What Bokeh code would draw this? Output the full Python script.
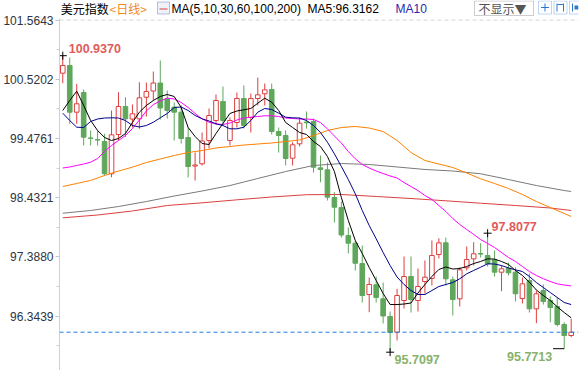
from bokeh.plotting import figure
from bokeh.models import Range1d, FixedTicker, Span, Label, BoxAnnotation, PrintfTickFormatter, ColumnDataSource
from bokeh.embed import file_html
from bokeh.resources import INLINE

# ---------------- data ----------------
opens = [100.628, 100.764, 99.941, 100.288, 99.487, 99.457, 99.424, 98.855, 99.547, 100.041,
         99.820, 99.824, 100.205, 100.314, 100.455, 100.177, 100.029, 99.941, 99.495, 98.992,
         99.031, 99.442, 99.794, 100.129, 99.442, 99.759, 100.182, 99.847, 100.182, 100.265,
         100.341, 99.600, 99.530, 99.130, 99.383, 99.768, 99.777, 98.960, 98.925, 98.437,
         98.260, 97.767, 97.631, 97.273, 96.727, 96.898, 96.651, 96.339, 96.062, 96.621,
         97.044, 96.621, 96.956, 97.009, 97.432, 97.638, 96.986, 96.651, 97.197, 97.356,
         97.449, 97.414, 97.338, 97.120, 97.190, 97.120, 96.656, 96.973, 96.474, 96.797,
         96.621, 96.515, 96.198, 96.004]
highs = [100.937, 100.905, 100.441, 100.341, 99.618, 99.618, 99.560, 99.970, 100.293, 100.205,
         100.076, 100.469, 100.464, 100.658, 100.852, 100.323, 100.112, 100.059, 99.671, 99.230,
         99.583, 100.006, 100.253, 100.394, 99.847, 100.288, 100.411, 100.270, 100.552, 100.446,
         100.446, 99.671, 99.618, 99.412, 99.847, 99.953, 99.829, 99.177, 99.054, 98.530,
         98.366, 97.908, 97.679, 97.590, 97.026, 97.044, 96.938, 96.427, 96.827, 97.397,
         97.397, 97.185, 97.326, 97.679, 97.719, 97.731, 97.044, 97.208, 97.573, 97.649,
         97.631, 97.8077, 97.502, 97.238, 97.291, 97.208, 97.026, 97.097, 96.797, 96.903,
         96.691, 96.674, 96.238, 96.298]
lows = [100.452, 99.736, 99.736, 99.353, 99.353, 99.353, 98.825, 98.795, 99.442, 99.500,
        99.671, 99.648, 99.865, 100.147, 99.812, 99.829, 99.442, 99.389, 98.789, 98.736,
        99.001, 99.301, 99.724, 99.724, 99.353, 99.671, 99.653, 99.583, 100.059, 100.059,
        99.547, 99.230, 99.001, 99.001, 99.336, 99.653, 98.877, 98.706, 98.384, 97.996,
        97.731, 97.449, 97.150, 96.586, 96.415, 96.586, 96.215, 95.7097, 95.916, 96.480,
        96.409, 96.427, 96.744, 96.885, 97.361, 96.885, 96.356, 96.515, 97.150, 97.238,
        97.379, 97.220, 97.044, 96.785, 97.062, 96.603, 96.568, 96.409, 96.221, 96.550,
        96.238, 96.162, 95.7713, 95.974]
closes = [100.764, 99.941, 100.089, 99.500, 99.480, 99.450, 98.855, 99.542, 100.041, 99.824,
          99.912, 100.194, 100.305, 100.455, 100.015, 99.970, 99.941, 99.477, 98.983, 99.010,
          99.433, 99.882, 100.147, 99.794, 99.794, 100.182, 99.706, 100.182, 100.247, 100.335,
          99.600, 99.530, 99.124, 99.366, 99.747, 99.754, 98.971, 98.930, 98.442, 98.266,
          97.776, 97.631, 97.278, 96.709, 96.903, 96.674, 96.348, 96.057, 96.709, 97.044,
          96.638, 96.868, 97.032, 97.414, 97.638, 97.003, 96.638, 97.162, 97.344, 97.444,
          97.439, 97.268, 97.120, 97.180, 97.109, 96.739, 96.915, 96.474, 96.739, 96.603,
          96.497, 96.198, 96.004, 96.062]

ma5 = [99.971, 100.147, 100.311, 100.059, 99.794, 99.618, 99.495, 99.442, 99.477, 99.565,
       99.759, 99.941, 100.059, 100.147, 100.218, 100.253, 100.218, 100.024, 99.671, 99.512,
       99.389, 99.371, 99.565, 99.742, 99.918, 99.962, 99.983, 100.006, 100.099, 100.188,
       100.117, 99.971, 99.759, 99.671, 99.583, 99.548, 99.424, 99.336, 99.160, 98.895,
       98.437, 98.031, 97.679, 97.450, 97.203, 96.974, 96.744, 96.550, 96.550, 96.559,
       96.577, 96.753, 96.903, 97.044, 97.168, 97.212, 97.176, 97.185, 97.220, 97.273,
       97.309, 97.356, 97.351, 97.309, 97.256, 97.150, 97.062, 96.944, 96.806, 96.709,
       96.621, 96.510, 96.409, 96.316]
ma10 = [99.923, 99.794, 99.676, 99.671, 99.777, 99.821, 99.838, 99.842, 99.838, 99.794,
        99.706, 99.680, 99.706, 99.764, 99.842, 99.918, 100.024, 100.032, 99.971, 99.883,
        99.824, 99.786, 99.736, 99.706, 99.648, 99.648, 99.676, 99.794, 99.941, 100.006,
        99.988, 99.923, 99.853, 99.842, 99.838, 99.794, 99.706, 99.583, 99.412, 99.207,
        98.983, 98.754, 98.502, 98.208, 97.943, 97.709, 97.467, 97.238, 97.035, 96.903,
        96.797, 96.727, 96.727, 96.797, 96.868, 96.903, 96.938, 97.004, 97.092, 97.150,
        97.208, 97.268, 97.264, 97.238, 97.194, 97.162, 97.132, 97.044, 96.938, 96.850,
        96.762, 96.674, 96.586, 96.550]
ma30 = [98.957, 98.975, 99.001, 99.027, 99.059, 99.124, 99.248, 99.354, 99.442, 99.530,
        99.653, 99.803, 99.962, 100.076, 100.138, 100.191, 100.173, 100.112, 100.024, 99.918,
        99.824, 99.764, 99.733, 99.724, 99.750, 99.803, 99.838, 99.853, 99.865, 99.877,
        99.877, 99.865, 99.838, 99.830, 99.821, 99.821, 99.812, 99.759, 99.648, 99.521,
        99.398, 99.248, 99.119, 99.019, 98.957, 98.904, 98.860, 98.816, 98.781, 98.701,
        98.631, 98.560, 98.472, 98.402, 98.296, 98.190, 98.067, 97.961, 97.873, 97.785,
        97.696, 97.626, 97.555, 97.467, 97.379, 97.309, 97.220, 97.132, 97.062, 97.004,
        96.956, 96.915, 96.894, 96.877]
ma60_idx = [0, 2, 4, 6, 8, 10, 12, 14, 16, 18, 20, 22, 24, 26, 28, 30, 32, 34, 36, 38,
            40, 42, 44, 46, 48, 50, 52, 54, 56, 58, 60, 62, 64, 66, 68, 70, 72, 73]
ma60 = [98.631, 98.684, 98.737, 98.825, 98.904, 98.971, 99.054, 99.116, 99.177, 99.230,
        99.265, 99.310, 99.336, 99.362, 99.380, 99.398, 99.424, 99.451, 99.530, 99.618,
        99.671, 99.689, 99.662, 99.600, 99.442, 99.230, 99.089, 99.027, 98.966, 98.869,
        98.767, 98.684, 98.596, 98.490, 98.366, 98.261, 98.155, 98.102]
ma100_idx = [0, 4, 8, 12, 16, 20, 24, 28, 32, 36, 40, 44, 48, 52, 56, 60, 64, 68, 72, 73]
ma100 = [98.160, 98.208, 98.278, 98.366, 98.463, 98.551, 98.648, 98.772, 98.895, 99.001,
         99.036, 99.019, 98.975, 98.931, 98.904, 98.855, 98.754, 98.648, 98.560, 98.543]
ma200_idx = [0, 5, 10, 15, 20, 25, 30, 35, 40, 45, 50, 55, 60, 65, 70, 73]
ma200 = [98.079, 98.128, 98.199, 98.296, 98.343, 98.396, 98.446, 98.486, 98.490, 98.455,
         98.419, 98.379, 98.336, 98.296, 98.252, 98.208]

tick_vals = [96.3439, 97.3880, 98.4321, 99.4761, 100.5202, 101.5643]
ma5_last = 96.3162
second_high_i = 61
second_low_i = 72

# ---------------- colours ----------------
RED = "#dd3f3f"
GREEN = "#5fa75b"
RED_LBL = "#e25b5b"
GREEN_LBL = "#86b26a"
ICON_BLUE = "#2b78cc"

# ---------------- layout ----------------
W, H = 581, 370
BL, BR, BT, BB = 56, 3, 0, 0
FW_, FH_ = W - BL - BR, H - BT - BB
Y_TOP, Y_BOT = 101.910, 95.387
X_LEFT, X_RIGHT = -0.471, 74.05


def sx(rx):
    return rx - BL


def sy(ry):
    return FH_ - (ry - BT)


p = figure(width=W, height=H, output_backend="svg", toolbar_location=None,
           x_range=Range1d(X_LEFT, X_RIGHT), y_range=Range1d(Y_BOT, Y_TOP),
           x_axis_location=None, min_border_left=BL, min_border_right=BR,
           min_border_top=BT, min_border_bottom=BB)
p.outline_line_color = None
p.xgrid.visible = False
p.ygrid.visible = False
p.background_fill_color = "white"

ax = p.yaxis[0]
ax.ticker = FixedTicker(ticks=tick_vals,
                        minor_ticks=[(a + b) / 2 for a, b in zip(tick_vals[:-1], tick_vals[1:])]
                        + [tick_vals[0] - (tick_vals[1] - tick_vals[0]) / 2])
ax.formatter = PrintfTickFormatter(format="%.4f")
ax.bounds = (Y_BOT, 101.60)
ax.axis_line_color = "#c4d2e2"
ax.major_tick_line_color = "#b8c8da"
ax.minor_tick_line_color = "#c4d2e2"
ax.major_tick_out = 4
ax.major_tick_in = 0
ax.minor_tick_out = 3
ax.minor_tick_in = 0
ax.major_label_standoff = 2
ax.major_label_text_font = "Liberation Sans"
ax.major_label_text_font_size = "12px"
ax.major_label_text_color = "#2e3440"

# top dashed line and last-price line
p.add_layout(Span(location=tick_vals[-1], dimension="width", line_color="#d5d5d5",
                  line_dash="4 3", line_width=1))
p.add_layout(Span(location=closes[-1], dimension="width", line_color="#1e7fe0",
                  line_dash="4 3", line_width=1))

# ---------------- candles ----------------
idx = list(range(len(opens)))
cols = [RED if c >= o else GREEN for o, c in zip(opens, closes)]
p.segment(x0=idx, y0=highs, x1=idx, y1=lows, line_color=cols, line_width=1)

up = ColumnDataSource(dict(
    x=[i for i in idx if closes[i] >= opens[i]],
    top=[closes[i] for i in idx if closes[i] >= opens[i]],
    bottom=[opens[i] for i in idx if closes[i] >= opens[i]]))
dn = ColumnDataSource(dict(
    x=[i for i in idx if closes[i] < opens[i]],
    top=[opens[i] for i in idx if closes[i] < opens[i]],
    bottom=[closes[i] for i in idx if closes[i] < opens[i]]))
p.vbar(x="x", top="top", bottom="bottom", width=0.66, source=up,
       fill_color="white", line_color=RED, line_width=1)
p.vbar(x="x", top="top", bottom="bottom", width=0.66, source=dn,
       fill_color=GREEN, line_color=GREEN, line_width=1)

# ---------------- moving averages ----------------
p.line(ma200_idx, ma200, line_color="#d94040", line_width=1)
p.line(ma100_idx, ma100, line_color="#7a7a7a", line_width=1)
p.line(ma60_idx, ma60, line_color="#ff8000", line_width=1)
p.line(idx, ma30, line_color="#ff00ff", line_width=1)
p.line(idx, ma10, line_color="#00008b", line_width=1)
p.line(idx, ma5, line_color="#000000", line_width=1)

# ---------------- extreme markers ----------------
hi_i = highs.index(max(highs))
lo_i = lows.index(min(lows))
p.scatter(x=[hi_i, second_high_i, lo_i],
          y=[highs[hi_i], highs[second_high_i], lows[lo_i]],
          marker="cross", size=8, line_color="black", line_width=1)
p.segment(x0=[second_low_i - 1.6], y0=[lows[second_low_i]], x1=[second_low_i],
          y1=[lows[second_low_i]], line_color="black", line_width=1)

lbl_kw = dict(text_font="Liberation Sans", text_font_size="12.5px", text_font_style="bold",
              text_baseline="middle")
p.add_layout(Label(x=hi_i, y=highs[hi_i], text=f"{highs[hi_i]:.4f}", x_offset=6, y_offset=7,
                   text_color=RED_LBL, **lbl_kw))
p.add_layout(Label(x=second_high_i, y=highs[second_high_i], text=f"{highs[second_high_i]:.4f}",
                   x_offset=4, y_offset=6.5, text_color=RED_LBL, **lbl_kw))
p.add_layout(Label(x=lo_i, y=lows[lo_i], text=f"{lows[lo_i]:.4f}", x_offset=4.5, y_offset=-7,
                   text_color=GREEN_LBL, **lbl_kw))
p.add_layout(Label(x=second_low_i, y=lows[second_low_i], text=f"{lows[second_low_i]:.4f}",
                   x_offset=-12, y_offset=-8, text_align="right", text_color=GREEN_LBL, **lbl_kw))

# ---------------- header ----------------
def head(rx, text, color, font="Liberation Sans"):
    p.add_layout(Label(x=sx(rx), y=sy(8.3), x_units="screen", y_units="screen", text=text,
                       text_color=color, text_font=font, text_font_size="12px",
                       text_baseline="middle"))


def sbox(l, r, t, b, fill, line, lw=1, fa=1.0):
    p.add_layout(BoxAnnotation(left=sx(l), right=sx(r), top=sy(t), bottom=sy(b),
                               left_units="screen", right_units="screen", top_units="screen",
                               bottom_units="screen", fill_color=fill, fill_alpha=fa,
                               line_color=line, line_width=lw))


head(57.3, "美元指数", "#000000", "Noto Sans CJK SC")
head(106, "<日线>", "#f08a1c", "Noto Sans CJK SC")
head(168, "MA(5,10,30,60,100,200)", "#000000")
head(304, f"MA5:{ma5_last:.4f}", "#000000")
head(392, "MA10", "#2a2aa8")

# little chart icon
sbox(154, 166, 1.5, 13.5, "#eef2fb", "#23349a")
sbox(156, 164, 8, 9, "#d94040", None, 0)
# dropdown box
sbox(471, 530, 0.5, 15, "white", "#5a5a5a")
p.add_layout(Label(x=sx(475), y=sy(8), x_units="screen", y_units="screen", text="不显示▼",
                   text_color="#555555", text_font="Noto Sans CJK SC", text_font_size="12px",
                   text_baseline="middle"))
# three tool icons
for lx in (535, 550.5, 566):
    sbox(lx, lx + 13, 0.5, 13.5, "white", ICON_BLUE)
sbox(537.5, 545.5, 6.5, 7.5, ICON_BLUE, None, 0)
sbox(541, 542, 3, 11, ICON_BLUE, None, 0)
sbox(553, 554, 3, 11, ICON_BLUE, None, 0)
sbox(559.5, 560.5, 3, 11, ICON_BLUE, None, 0)
sbox(554, 559.5, 3.5, 4.5, ICON_BLUE, None, 0)
sbox(568.5, 569.5, 3, 11, ICON_BLUE, None, 0)
sbox(571, 575, 5, 9, ICON_BLUE, None, 0)

open("out.html", "w").write(file_html(p, INLINE))
